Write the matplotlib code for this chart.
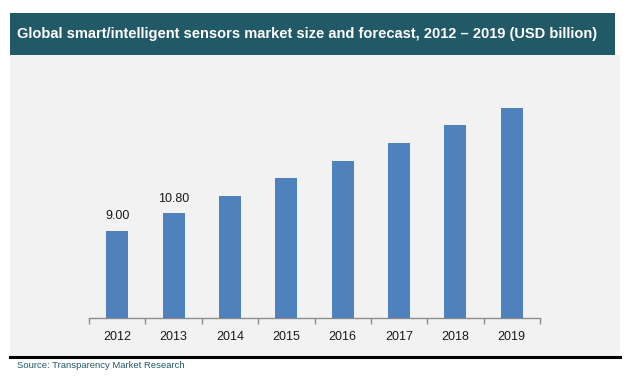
import matplotlib
matplotlib.use("Agg")
import matplotlib.pyplot as plt
from matplotlib.patches import Rectangle
from matplotlib import font_manager

# Données du graphique
anos = ["2012", "2013", "2014", "2015", "2016", "2017", "2018", "2019"]
valores = [9.00, 10.80, 12.6, 14.4, 16.2, 18.0, 19.9, 21.6]
rotulos = ["9.00", "10.80", "", "", "", "", "", ""]

titulo = "Global smart/intelligent sensors market size and forecast, 2012 \u2013 2019 (USD billion)"
fonte = "Source: Transparency Market Research"

nomes = sorted({f.name for f in font_manager.fontManager.ttflist})
print([n for n in nomes if "Narrow" in n or "Condensed" in n])

W, H = 632, 378
plt.rcParams['font.family'] = ['Liberation Sans', 'DejaVu Sans']

fig = plt.figure(figsize=(W / 100, H / 100), dpi=100)
fig.patch.set_facecolor("white")

def fx(px):
    return px / W

def fy(px):
    return 1 - px / H

# Fundo cinzento e faixa do título
fig.patches.append(Rectangle((fx(10), fy(357)), fx(610), (357 - 55) / H,
                             transform=fig.transFigure, facecolor="#f2f2f2", edgecolor="none", zorder=-2))
fig.patches.append(Rectangle((fx(10), fy(55)), fx(605), (55 - 13) / H,
                             transform=fig.transFigure, facecolor="#225967", edgecolor="none", zorder=-1))
fig.lines.append(plt.Line2D([fx(10), fx(620)], [fy(357), fy(357)], transform=fig.transFigure,
                            color="black", lw=2.2, zorder=2))

t = fig.text(fx(17), fy(34), titulo, color="white", fontsize=10.5, fontweight="bold",
             va="center", ha="left")
fig.text(fx(17), fy(366), fonte, color="#225967", fontsize=6.8, va="center", ha="left")

# Eixo do gráfico
ax = fig.add_axes([fx(89), fy(318), fx(540 - 89), (318 - 70) / H])
ax.set_facecolor("none")
ax.set_zorder(3)
x = range(len(anos))
barras = ax.bar(x, valores, width=0.39, color="#4f81bd", zorder=3)
ax.set_xlim(-0.5, len(anos) - 0.5)
ax.set_ylim(0, 248 / 9.7)

for b, r in zip(barras, rotulos):
    if r:
        ax.text(b.get_x() + b.get_width() / 2, b.get_height() + 0.9, r,
                ha="center", va="bottom", fontsize=9, color="#1a1a1a")

for s in ["top", "right", "left"]:
    ax.spines[s].set_visible(False)
ax.spines["bottom"].set_color("#8c8c8c")
ax.spines["bottom"].set_linewidth(1.0)
ax.set_yticks([])
ax.set_xticks([i - 0.5 for i in range(len(anos) + 1)], minor=True)
ax.set_xticks(list(x))
ax.set_xticklabels(anos, fontsize=9, color="#1a1a1a")
ax.tick_params(axis="x", which="major", length=0, pad=9)
ax.tick_params(axis="x", which="minor", length=4, color="#8c8c8c", width=1.0)

fig.canvas.draw()
print(t.get_window_extent())

fig.savefig("out.png", dpi=100, facecolor="white")
